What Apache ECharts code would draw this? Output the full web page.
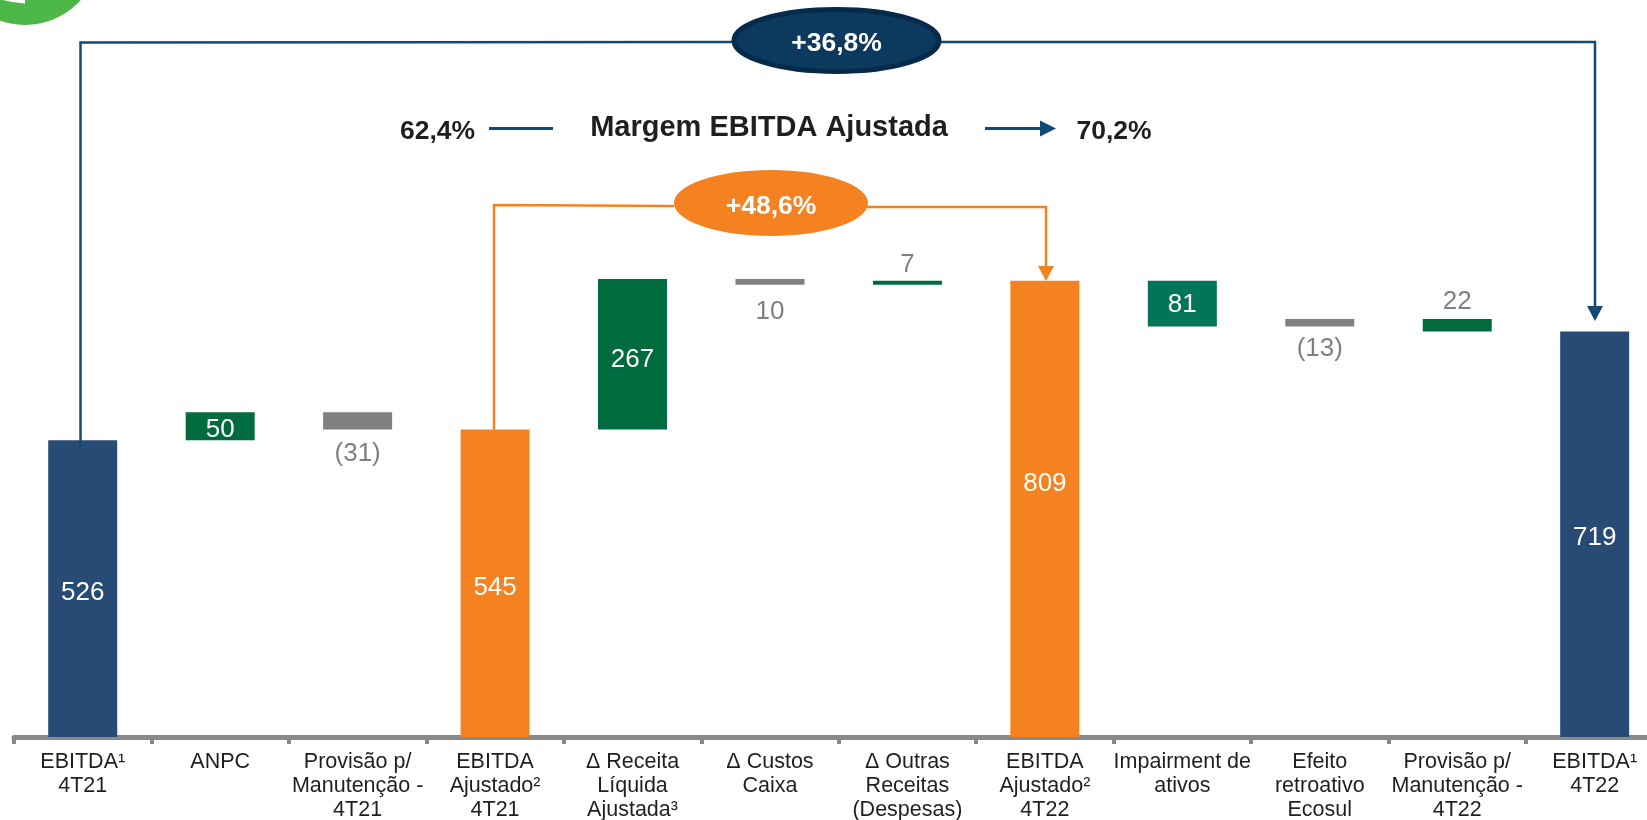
<!DOCTYPE html>
<html>
<head>
<meta charset="utf-8">
<style>
html, body { margin: 0; padding: 0; background: #fff; }
#main { width: 1647px; height: 820px; }
</style>
<script src="https://cdn.jsdelivr.net/npm/echarts@6/dist/echarts.min.js"></script>
</head>
<body>
<div id="main"></div>
<script>
var categories = [
	'EBITDA¹\n4T21', 'ANPC', 'Provisão p/\nManutenção -\n4T21', 'EBITDA\nAjustado²\n4T21',
	'Δ Receita\nLíquida\nAjustada³', 'Δ Custos\nCaixa', 'Δ Outras\nReceitas\n(Despesas)', 'EBITDA\nAjustado²\n4T22',
	'Impairment de\nativos', 'Efeito\nretroativo\nEcosul', 'Provisão p/\nManutenção -\n4T22', 'EBITDA¹\n4T22'
];
// invisible part under each floating bar
var baseValues = [0, 526, 545, 0, 545, 802, 802, 0, 728, 728, 719, 0];
var barValues = [526, 50, 31, 545, 267, 10, 7, 809, 81, 13, 22, 719];
var valueLabels = ['526', '50', '(31)', '545', '267', '10', '7', '809', '81', '(13)', '22', '719'];
var barKinds = ['navy', 'green', 'grey', 'orange', 'green', 'grey', 'green', 'orange', 'teal', 'grey', 'green', 'navy'];
var labelSides = ['in', 'in', 'below', 'in', 'in', 'below', 'above', 'in', 'in', 'below', 'above', 'in'];

var kindColors = {navy: '#284b75', green: '#006b3f', teal: '#007557', grey: '#808080', orange: '#f58220'};
// label nudges in px, the source slide places them by hand
var labelNudge = [4, 4, 5, 5, 6, 8, 3, -25, 1, 3, 2, 4];

var blue = '#134a75';
var orange = '#f58220';
var font = '"Liberation Sans", Arial, sans-serif';

var barData = barValues.map(function(v, i) {
	var side = labelSides[i];
	return {
		value: v,
		itemStyle: {color: kindColors[barKinds[i]]},
		label: {
			show: true,
			formatter: valueLabels[i],
			position: side === 'in' ? 'inside' : (side === 'above' ? 'top' : 'bottom'),
			distance: 6,
			offset: [0, labelNudge[i]],
			color: side === 'in' ? '#fff' : '#808080',
			fontSize: 26,
			fontFamily: font
		}
	};
});

var myChart = echarts.init(document.getElementById('main'), null, {renderer: 'canvas'});

function text(x, y, str, size, color, bold) {
	return {
		type: 'text',
		x: x,
		y: y,
		z: 20,
		style: {
			text: str,
			fill: color,
			font: (bold ? 'bold ' : '') + size + 'px ' + font,
			textAlign: 'center',
			textVerticalAlign: 'middle'
		}
	};
}
function line(points, color, width) {
	return {
		type: 'polyline',
		z: 10,
		shape: {points: points},
		style: {stroke: color, lineWidth: width, fill: null}
	};
}
function head(x, y, color) {
	// arrow pointing down, tip at x,y
	return {
		type: 'polygon',
		z: 10,
		shape: {points: [[x - 8, y - 15], [x + 8, y - 15], [x, y]]},
		style: {fill: color}
	};
}

myChart.setOption({
	animation: false,
	backgroundColor: '#fff',
	grid: {left: 14, top: 173, width: 1649.4, height: 564, containLabel: false, outerBoundsMode: 'none'},
	xAxis: {
		type: 'category',
		data: categories,
		offset: 2,
		axisLine: {lineStyle: {color: '#898989', width: 5}},
		axisTick: {show: true, length: 7, lineStyle: {color: '#898989', width: 4}},
		axisLabel: {
			interval: 0,
			margin: 11,
			color: '#1f1f1f',
			fontSize: 21.5,
			lineHeight: 24,
			fontFamily: font
		}
	},
	yAxis: {type: 'value', min: 0, max: 1000, show: false, splitLine: {show: false}},
	series: [
		{
			name: 'base',
			type: 'bar',
			stack: 'ebitda',
			barWidth: 69,
			silent: true,
			itemStyle: {color: 'transparent'},
			data: baseValues
		},
		{
			name: 'valor',
			type: 'bar',
			stack: 'ebitda',
			barWidth: 69,
			data: barData
		}
	],
	graphic: [
		{type: 'circle', z: 5, shape: {cx: 25, cy: -50, r: 75}, style: {fill: '#4db848'}},
		{type: 'polygon', z: 6, shape: {points: [[3, 0], [25, 0], [25, 3.5], [12, 2]]}, style: {fill: '#fff'}},
		line([[80.5, 450], [80.5, 42.5], [732, 42]], blue, 2.5),
		line([[941, 42], [1595, 42], [1595, 306]], blue, 2.5),
		head(1595, 321, blue),
		{
			type: 'ellipse',
			z: 11,
			shape: {cx: 836.5, cy: 40.5, rx: 102.5, ry: 31},
			style: {fill: '#0b3a5e', stroke: '#052a4a', lineWidth: 5}
		},
		text(836.5, 44, '+36,8%', 26.5, '#fff', true),
		text(769, 128, 'Margem EBITDA Ajustada', 29, '#1f1f1f', true),
		text(437.5, 132, '62,4%', 26.5, '#1f1f1f', true),
		text(1114, 132, '70,2%', 26.5, '#1f1f1f', true),
		line([[489, 128.5], [553, 128.5]], blue, 3),
		line([[985, 128.5], [1042, 128.5]], blue, 3),
		{
			type: 'polygon',
			z: 10,
			shape: {points: [[1040, 120.5], [1040, 136.5], [1056, 128.5]]},
			style: {fill: blue}
		},
		line([[494, 430], [494, 205], [674, 206]], orange, 2.5),
		line([[867, 207], [1046, 207], [1046, 267]], orange, 2.5),
		head(1046, 281, orange),
		{
			type: 'ellipse',
			z: 11,
			shape: {cx: 771, cy: 203, rx: 97, ry: 33},
			style: {fill: orange}
		},
		text(771, 207, '+48,6%', 26.5, '#fff', true)
	]
});
</script>
</body>
</html>
